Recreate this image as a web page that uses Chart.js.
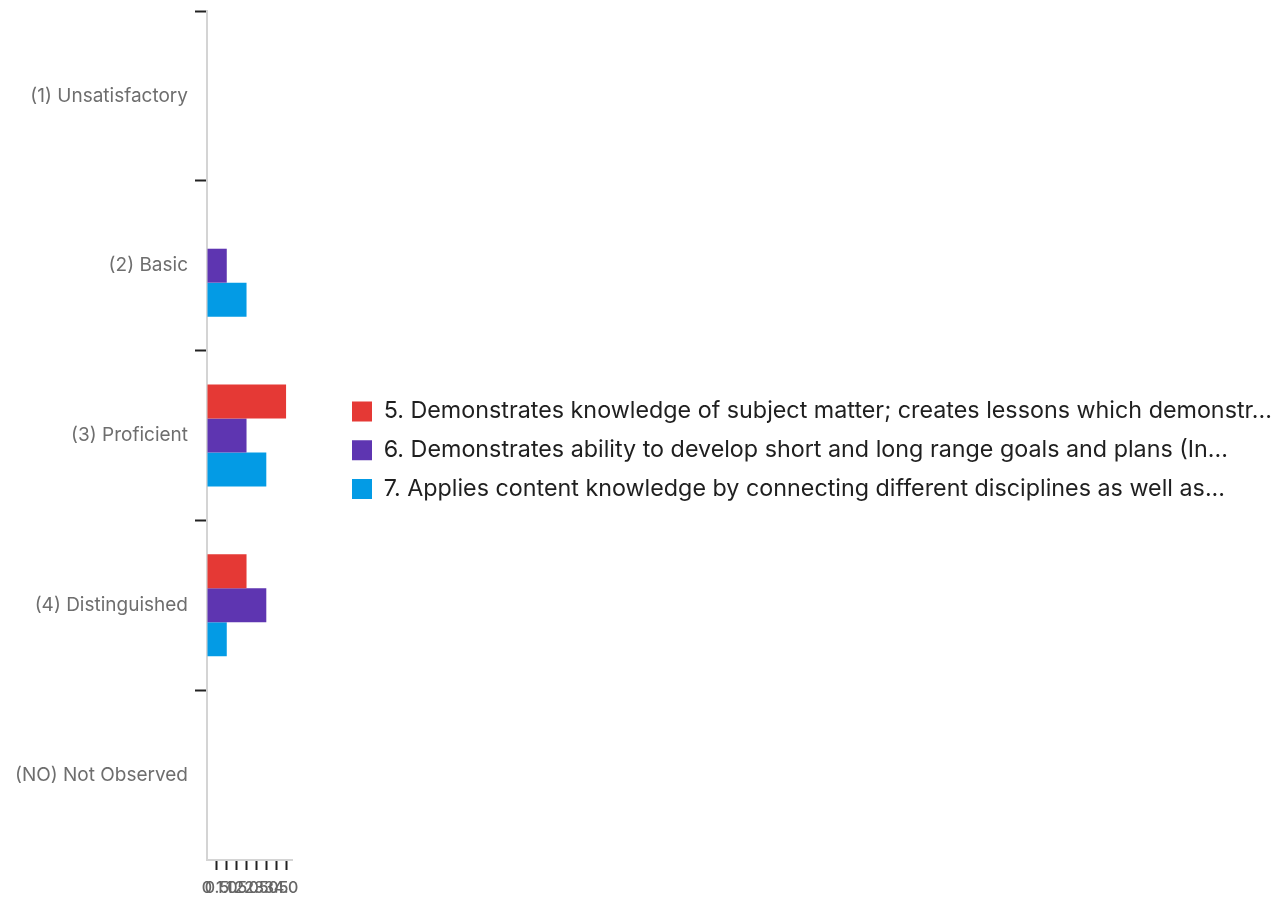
<!DOCTYPE html>
<html>
<head>
<meta charset="utf-8">
<title>Rubric ratings</title>
<script src="https://cdn.jsdelivr.net/npm/chart.js@4/dist/chart.umd.min.js"></script>
<style>
  html, body { margin: 0; padding: 0; background: #fff; }
  #wrap { width: 1278px; height: 898px; }
</style>
</head>
<body>
<div id="wrap"><canvas id="cv" width="1278" height="898"></canvas></div>
<script>
// ── DATA ──────────────────────────────────────────────────────────────────────
const CATEGORIES = [
  '(1) Unsatisfactory',
  '(2) Basic',
  '(3) Proficient',
  '(4) Distinguished',
  '(NO) Not Observed'
];
const SERIES_NAMES = [
  '5. Demonstrates knowledge of subject matter; creates lessons which demonstr...',
  '6. Demonstrates ability to develop short and long range goals and plans (In...',
  '7. Applies content knowledge by connecting different disciplines as well as...'
];
const ITEM5 = [0, 0, 4, 2, 0];
const ITEM6 = [0, 1, 2, 3, 0];
const ITEM7 = [0, 2, 3, 1, 0];
const COLORS = ['#e53935', '#5e35b1', '#039be5'];

const X_MIN = 0, X_MAX = 4.3, X_STEP = 0.5;

// ── LAYOUT ────────────────────────────────────────────────────────────────────
const FONT = 'Inter, Roboto, sans-serif';
const Y_AXIS_W = 207;     // label column + tick marks
const X_AXIS_H = 38;
const PLOT_RIGHT = 292;   // plot stops here, legend sits to its right
const LEGEND_LEFT = 336.5;
const LEGEND_TOP = 384.3;

// fixed-width legend placed beside a narrow plot
const legendSpot = {
  id: 'legendSpot',
  beforeLayout(chart) {
    const lg = chart.legend;
    if (!lg || lg._spot) return;
    const fit = lg.fit.bind(lg);
    lg.fit = () => { fit(); lg.width = chart.width - PLOT_RIGHT; };
    lg._spot = true;
  },
  afterLayout(chart) {
    const lg = chart.legend;
    if (!lg) return;
    lg.left = LEGEND_LEFT;
    lg.right = chart.width;
    lg.width = lg.right - lg.left;
    const h = lg.bottom - lg.top;
    lg.top = LEGEND_TOP;
    lg.bottom = LEGEND_TOP + h;
  }
};

const datasets = [ITEM5, ITEM6, ITEM7].map((vals, i) => ({
  label: SERIES_NAMES[i],
  data: vals,
  backgroundColor: COLORS[i],
  borderWidth: 0,
  categoryPercentage: 0.6,
  barPercentage: 1.0
}));

new Chart(document.getElementById('cv'), {
  type: 'bar',
  data: { labels: CATEGORIES, datasets },
  plugins: [legendSpot],
  options: {
    indexAxis: 'y',
    responsive: false,
    animation: false,
    devicePixelRatio: 1,
    layout: { padding: { top: 11, left: 0, right: 0, bottom: 0 } },
    scales: {
      y: {
        afterFit: s => { s.width = Y_AXIS_W; s.paddingTop = 0; s.paddingBottom = 0; },
        border: { color: '#d4d4d4', width: 2 },
        grid: {
          drawOnChartArea: false,
          tickLength: 12,
          tickWidth: 2,
          // no mark under the last band
          tickColor: ctx => ctx.tick ? '#222' : 'rgba(0,0,0,0)'
        },
        ticks: { color: '#6e6e6e', padding: 7, font: { family: FONT, size: 19 } }
      },
      x: {
        min: X_MIN,
        max: X_MAX,
        afterFit: s => { s.height = X_AXIS_H; },
        border: { color: '#d4d4d4', width: 2 },
        grid: {
          drawOnChartArea: false,
          tickLength: 10,
          tickWidth: 2,
          tickColor: ctx => (ctx.tick && ctx.tick.value !== 0) ? '#222' : 'rgba(0,0,0,0)'
        },
        ticks: {
          stepSize: X_STEP,
          includeBounds: false,
          autoSkip: false,
          maxRotation: 0,
          minRotation: 0,
          padding: 9,
          color: '#666',
          font: { family: FONT, size: 16, weight: '500' }
        }
      }
    },
    plugins: {
      legend: {
        position: 'right',
        align: 'start',
        labels: {
          boxWidth: 20,
          boxHeight: 20,
          padding: 15.5,
          color: '#1f1f1f',
          font: { family: FONT, size: 23.3 }
        }
      },
      tooltip: { enabled: false }
    }
  }
});
</script>
</body>
</html>
